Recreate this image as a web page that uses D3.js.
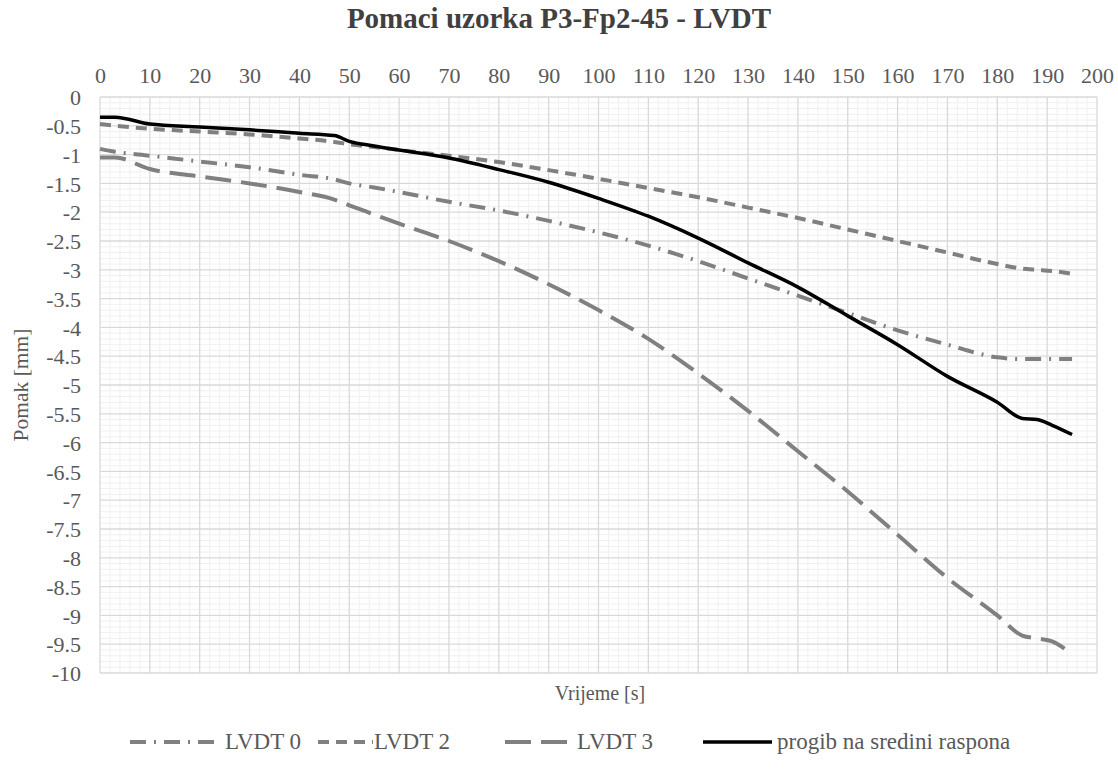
<!DOCTYPE html>
<html><head><meta charset="utf-8">
<script src="https://cdn.jsdelivr.net/npm/d3@7"></script>
<style>body{margin:0;background:#fff}svg{display:block}svg text{font-family:"Liberation Serif","Times New Roman",serif !important}</style>
</head><body>
<svg id="c" width="1118" height="773"></svg>
<script>
const title = "Pomaci uzorka P3-Fp2-45 - LVDT";
const xLabel = "Vrijeme [s]";
const yLabel = "Pomak [mm]";
const xTicks = [0,10,20,30,40,50,60,70,80,90,100,110,120,130,140,150,160,170,180,190,200];
const yTicks = [0,-0.5,-1,-1.5,-2,-2.5,-3,-3.5,-4,-4.5,-5,-5.5,-6,-6.5,-7,-7.5,-8,-8.5,-9,-9.5,-10];
const time = [0,3,10,20,30,40,47,50,55,60,70,80,90,100,110,120,130,140,150,160,170,180,185,188,191,195];
const lvdt0 = [-0.9,-0.95,-1.02,-1.12,-1.22,-1.35,-1.43,-1.5,-1.57,-1.65,-1.82,-1.97,-2.15,-2.35,-2.58,-2.85,-3.15,-3.45,-3.75,-4.05,-4.3,-4.52,-4.55,-4.55,-4.55,-4.55];
const lvdt2 = [-0.47,-0.5,-0.55,-0.6,-0.65,-0.72,-0.78,-0.82,-0.87,-0.92,-1.02,-1.13,-1.27,-1.42,-1.58,-1.74,-1.92,-2.1,-2.3,-2.5,-2.7,-2.9,-2.98,-3.0,-3.02,-3.07];
const lvdt3 = [-1.05,-1.05,-1.25,-1.38,-1.5,-1.65,-1.78,-1.88,-2.04,-2.2,-2.5,-2.85,-3.25,-3.7,-4.2,-4.8,-5.45,-6.15,-6.85,-7.6,-8.35,-9.0,-9.35,-9.4,-9.45,-9.68];
const progib = [-0.35,-0.35,-0.47,-0.52,-0.57,-0.63,-0.67,-0.77,-0.85,-0.92,-1.06,-1.26,-1.48,-1.76,-2.07,-2.45,-2.88,-3.3,-3.8,-4.3,-4.85,-5.3,-5.58,-5.6,-5.7,-5.86];
const seriesNames = ["LVDT 0","LVDT 2","LVDT 3","progib na sredini raspona"];

const series = [
  {name:seriesNames[0], vals:lvdt0, color:"#808080", w:4, dash:"16,8,2,8"},
  {name:seriesNames[1], vals:lvdt2, color:"#808080", w:4, dash:"11,7"},
  {name:seriesNames[2], vals:lvdt3, color:"#808080", w:4, dash:"26,10"},
  {name:seriesNames[3], vals:progib, color:"#000000", w:3.5, dash:null}
];

const svg = d3.select("#c");
const L=100, R=1097, T=97, B=673;
const x = d3.scaleLinear().domain([0,200]).range([L,R]);
const y = d3.scaleLinear().domain([-10,0]).range([B,T]);
const font = "Liberation Serif";

// minor grid
const g = svg.append("g");
g.selectAll(".mx").data(d3.range(0,201,2).filter(v=>v%10)).enter().append("line")
 .attr("x1",d=>x(d)).attr("x2",d=>x(d)).attr("y1",T).attr("y2",B)
 .attr("stroke","#f0f0f0").attr("stroke-width",1);
g.selectAll(".my").data(d3.range(0,101).map(i=>-i/10).filter((v,i)=>i%5)).enter().append("line")
 .attr("y1",d=>y(d)).attr("y2",d=>y(d)).attr("x1",L).attr("x2",R)
 .attr("stroke","#f0f0f0").attr("stroke-width",1);
// major grid
g.selectAll(".Mx").data(xTicks).enter().append("line")
 .attr("x1",d=>x(d)).attr("x2",d=>x(d)).attr("y1",T).attr("y2",B)
 .attr("stroke","#d9d9d9").attr("stroke-width",1.3);
g.selectAll(".My").data(yTicks).enter().append("line")
 .attr("y1",d=>y(d)).attr("y2",d=>y(d)).attr("x1",L).attr("x2",R)
 .attr("stroke","#d9d9d9").attr("stroke-width",1.3);

// axes
const xa = svg.append("g").attr("transform",`translate(0,${T})`)
 .call(d3.axisTop(x).tickValues(xTicks).tickSize(0).tickPadding(14).tickFormat(d3.format("d")));
const ya = svg.append("g").attr("transform",`translate(${L},0)`)
 .call(d3.axisLeft(y).tickValues(yTicks).tickSize(0).tickPadding(19).tickFormat(d=>String(d)));
[xa,ya].forEach(a=>{
  a.attr("font-family",font);
  a.select(".domain").remove();
  a.selectAll("text").style("font-family",font).attr("font-size",22).attr("fill","#595959");
});
ya.selectAll("text").attr("dy","0.35em");

// lines
const line = d3.line().x((d,i)=>x(time[i])).y(d=>y(d)).curve(d3.curveMonotoneX);
series.forEach(s=>{
  svg.append("path").attr("d",line(s.vals)).attr("fill","none")
   .attr("stroke",s.color).attr("stroke-width",s.w)
   .attr("stroke-dasharray",s.dash).attr("stroke-linejoin","round");
});

// title and labels
svg.append("text").attr("x",559).attr("y",28).attr("text-anchor","middle")
 .style("font-family",font).attr("font-size",29).attr("font-weight","bold").attr("fill","#404040").text(title);
svg.append("text").attr("x",600).attr("y",700).attr("text-anchor","middle")
 .style("font-family",font).attr("font-size",20).attr("fill","#595959").text(xLabel);
svg.append("text").attr("transform","translate(28,385) rotate(-90)").attr("text-anchor","middle")
 .style("font-family",font).attr("font-size",21.5).attr("fill","#595959").text(yLabel);

// legend
const leg = [{x0:130,x1:215,tx:225},{x0:318,x1:373,tx:374},{x0:505,x1:575,tx:577},{x0:703,x1:772,tx:777}];
series.forEach((s,i)=>{
  const p = leg[i];
  svg.append("line").attr("x1",p.x0).attr("x2",p.x1).attr("y1",742).attr("y2",742)
   .attr("stroke",s.color).attr("stroke-width",s.w).attr("stroke-dasharray",s.dash);
  svg.append("text").attr("x",p.tx).attr("y",749).style("font-family",font).attr("font-size",23)
   .attr("fill","#595959").text(s.name);
});
</script>
</body></html>
